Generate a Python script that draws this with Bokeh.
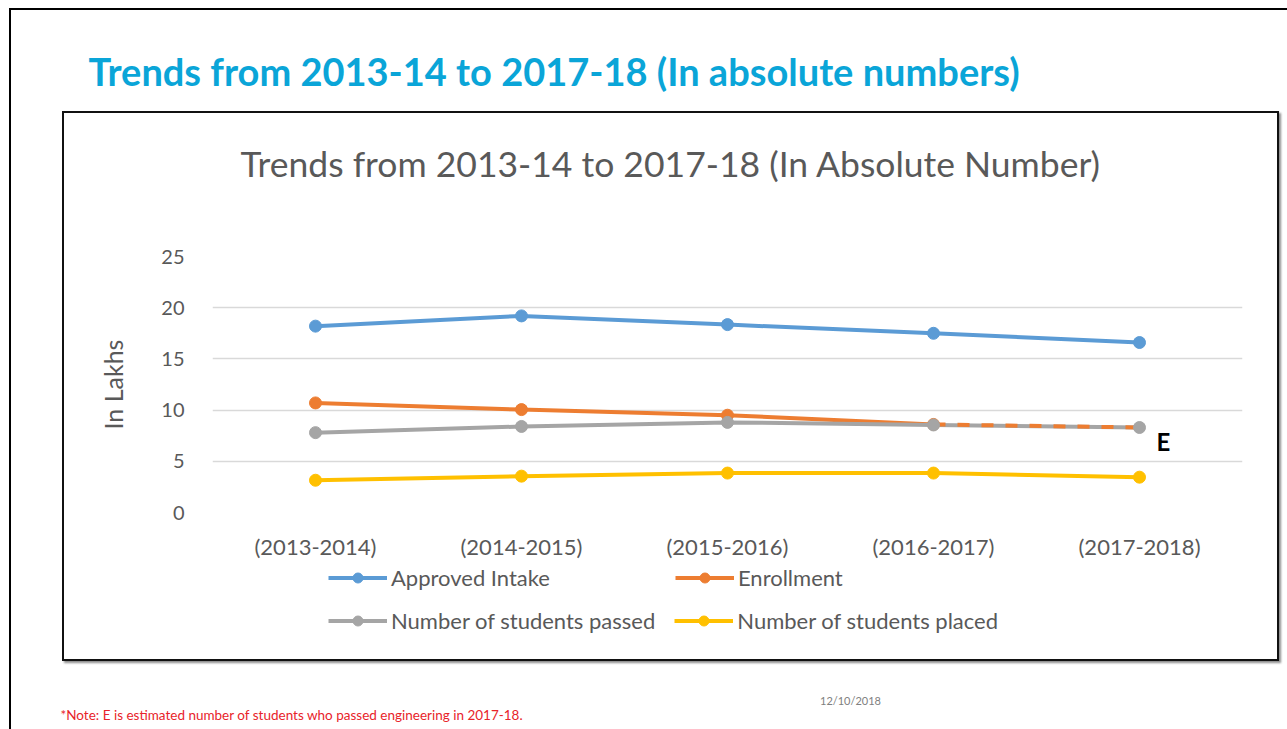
from bokeh.plotting import figure
from bokeh.layouts import column
from bokeh.models import Label, Legend, LegendItem, ColumnDataSource, InlineStyleSheet
from bokeh.core.properties import value
from bokeh.embed import file_html
from bokeh.resources import INLINE

years = ["(2013-2014)", "(2014-2015)", "(2015-2016)", "(2016-2017)", "(2017-2018)"]
approved_intake = [18.2, 19.2, 18.35, 17.5, 16.6]
enrollment = [10.7, 10.05, 9.5, 8.6, 8.3]
students_passed = [7.8, 8.4, 8.8, 8.55, 8.3]
students_placed = [3.15, 3.55, 3.85, 3.85, 3.45]
y_ticks = [0, 5, 10, 15, 20, 25]
series_names = ["Approved Intake", "Enrollment", "Number of students passed", "Number of students placed"]

W = 1287
H_TOP, H_MAIN, H_BOT = 230, 332, 167
FONT = "Lato"
GRAY_TXT = "#595959"
C_BLUE, C_ORANGE, C_GRAY, C_YELLOW = "#5b9bd5", "#ed7d31", "#a5a5a5", "#ffc000"
LW, MS = 4, 12


def no_align(f):
    try:
        f.frame_align = False
    except Exception:
        pass


def blank_fig(h):
    f = figure(width=W, height=h, x_range=(0, W), y_range=(0, h),
               x_axis_type=None, y_axis_type=None, output_backend="svg",
               toolbar_location=None, min_border=0)
    f.outline_line_color = None
    f.background_fill_color = "white"
    f.border_fill_color = "white"
    no_align(f)
    return f


# ---------- top: headings ----------
top = blank_fig(H_TOP)
top.add_layout(Label(x=88, y=H_TOP - 70, x_units="screen", y_units="screen",
                     text="Trends from 2013-14 to 2017-18 (In absolute numbers)",
                     text_font=FONT, text_font_style="bold", text_font_size="38px",
                     text_color="#0aa5d8", text_baseline="middle"))
top.add_layout(Label(x=240, y=H_TOP - 163, x_units="screen", y_units="screen",
                     text="Trends from 2013-14 to 2017-18 (In Absolute Number)",
                     text_font=FONT, text_font_size="35.5px", text_color=GRAY_TXT,
                     text_baseline="middle"))

# ---------- main chart ----------
p = figure(width=W, height=H_MAIN, x_range=years, y_range=(0, 25), title=None,
           output_backend="svg", toolbar_location=None,
           min_border_left=212, min_border_right=45,
           min_border_top=26, min_border_bottom=49)
no_align(p)
p.outline_line_color = None
p.background_fill_color = "white"
p.border_fill_color = "white"

p.yaxis.ticker = y_ticks
for ax in (p.xaxis[0], p.yaxis[0]):
    ax.axis_line_color = None
    ax.major_tick_line_color = None
    ax.minor_tick_line_color = None
    ax.major_label_text_color = GRAY_TXT
    ax.major_label_text_font = FONT
p.yaxis.major_label_text_font_size = "20px"
p.yaxis.major_label_standoff = 22
p.yaxis.axis_label = "In Lakhs"
p.yaxis.axis_label_text_font = FONT
p.yaxis.axis_label_text_font_style = "normal"
p.yaxis.axis_label_text_font_size = "25px"
p.yaxis.axis_label_text_color = GRAY_TXT
p.yaxis.axis_label_standoff = 30
p.xaxis.major_label_text_font_size = "22px"
p.xaxis.major_label_standoff = 14

p.xgrid.grid_line_color = None
p.ygrid.grid_line_color = "#d9d9d9"
p.ygrid.grid_line_width = 1.5

src = ColumnDataSource(dict(year=years, ai=approved_intake, en=enrollment,
                            sp=students_passed, pl=students_placed))
en_solid = ColumnDataSource(dict(year=years[:4], en=enrollment[:4]))
en_dash = ColumnDataSource(dict(year=years[3:], en=enrollment[3:]))
e_src = ColumnDataSource(dict(year=years[-1:], sp=students_passed[-1:], t=["E"]))

p.line("year", "ai", source=src, color=C_BLUE, line_width=LW)
p.scatter("year", "ai", source=src, color=C_BLUE, size=MS)
p.line("year", "en", source=en_solid, color=C_ORANGE, line_width=LW)
p.scatter("year", "en", source=en_solid, color=C_ORANGE, size=MS)
p.line("year", "sp", source=src, color=C_GRAY, line_width=LW)
p.line("year", "en", source=en_dash, color=C_ORANGE, line_width=LW, line_dash="12 12")
p.scatter("year", "sp", source=src, color=C_GRAY, size=MS)
p.line("year", "pl", source=src, color=C_YELLOW, line_width=LW)
p.scatter("year", "pl", source=src, color=C_YELLOW, size=MS)

p.text(x="year", y="sp", text="t", source=e_src, x_offset=17, y_offset=14,
       text_font=value(FONT), text_font_style="bold", text_font_size="24px",
       text_color="black", text_baseline="middle")

# ---------- bottom: legend and footnotes ----------
bot = blank_fig(H_BOT)
colors = [C_BLUE, C_ORANGE, C_GRAY, C_YELLOW]
nan = float("nan")
items = []
for name, c in zip(series_names, colors):
    # legend swatches only (no visible data point)
    rl = bot.line(x=[nan], y=[nan], color=c, line_width=LW)
    rm = bot.scatter(x=[nan], y=[nan], color=c, size=MS)
    items.append(LegendItem(label=name, renderers=[rl, rm]))


def make_legend(its, loc, spacing):
    lg = Legend(items=its, orientation="horizontal", location=loc)
    lg.border_line_color = None
    lg.background_fill_alpha = 0
    lg.padding = 0
    lg.margin = 0
    lg.spacing = spacing
    lg.glyph_width = 59
    lg.glyph_height = 25
    lg.label_height = 25
    lg.label_standoff = 4
    lg.label_text_font = FONT
    lg.label_text_font_size = "22px"
    lg.label_text_color = GRAY_TXT
    return lg


bot.add_layout(make_legend(items[:2], (328, 138), 125), "center")
bot.add_layout(make_legend(items[2:], (328, 95), 19), "center")

bot.add_layout(Label(x=60, y=15, x_units="screen", y_units="screen",
                     text="*Note: E is estimated number of students who passed engineering in 2017-18.",
                     text_font=FONT, text_font_size="13.5px", text_color="#e8232a",
                     text_baseline="middle"))
bot.add_layout(Label(x=850, y=29, x_units="screen", y_units="screen",
                     text="12/10/2018", text_font=FONT, text_font_size="11px",
                     text_color="#808080", text_align="center", text_baseline="middle"))

css = InlineStyleSheet(css="""
:host { position: relative; }
:host::before { content: ""; position: absolute; left: 9px; top: 8px; width: 1278px; height: 721px;
  border-left: 2px solid #000; border-top: 2px solid #000; box-sizing: border-box;
  pointer-events: none; z-index: 10; }
:host::after { content: ""; position: absolute; left: 62px; top: 111px; width: 1217px; height: 550px;
  border: 2px solid #111; box-shadow: 2px 2px 2px rgba(0,0,0,0.45); box-sizing: border-box;
  pointer-events: none; z-index: 10; }
""")
layout = column(top, p, bot, spacing=0, stylesheets=[css])

open("out.html", "w").write(file_html(layout, INLINE))
